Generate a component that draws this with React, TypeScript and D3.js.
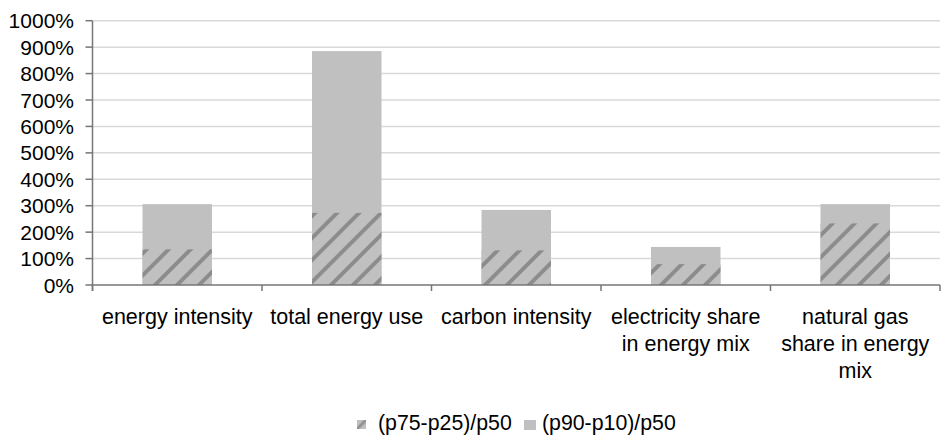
import React from "react";
import * as d3 from "d3";

const categories = [
  ["energy intensity"],
  ["total energy use"],
  ["carbon intensity"],
  ["electricity share", "in energy mix"],
  ["natural gas", "share in energy", "mix"],
];
const seriesNames = ["(p75-p25)/p50", "(p90-p10)/p50"];
const iqrValues = [135, 273, 131, 79, 233];
const p90p10Values = [306, 885, 284, 144, 306];
const yTicks = [0, 100, 200, 300, 400, 500, 600, 700, 800, 900, 1000];

const W = 946;
const H = 443;
const FONT = "Arial, 'Liberation Sans', sans-serif";

export default function App() {
  const left = 92.5;
  const right = 940;
  const top = 20.7;
  const bottom = 285;
  const x = d3
    .scaleBand<number>()
    .domain(categories.map((_, i) => i))
    .range([left, right])
    .paddingInner(0)
    .paddingOuter(0);
  const y = d3.scaleLinear().domain([0, 1000]).range([bottom, top]);
  const bw = x.bandwidth() * 0.41;
  const axisColor = "#767676";

  return (
    <svg
      width={W}
      height={H}
      style={{ position: "absolute", left: 0, top: 0, background: "#fff" }}
      fontFamily={FONT}
    >
      <defs>
        <pattern id="hatch" patternUnits="userSpaceOnUse" width={22} height={22}>
          <rect width={22} height={22} fill="#c0c0c0" />
          <path
            d="M-2,24 L24,-2 M-7.5,7.5 L7.5,-7.5 M14.5,29.5 L29.5,14.5"
            stroke="#8c8c8c"
            strokeWidth={4}
          />
        </pattern>
        <linearGradient id="legendHatch" x1="0" y1="0" x2="1" y2="1">
          <stop offset="0" stopColor="#c0c0c0" />
          <stop offset="0.3" stopColor="#c0c0c0" />
          <stop offset="0.5" stopColor="#8a8a8a" />
          <stop offset="0.7" stopColor="#c0c0c0" />
          <stop offset="1" stopColor="#c0c0c0" />
        </linearGradient>
      </defs>

      {/* gridlines */}
      {yTicks.slice(1).map((t) => (
        <line
          key={"g" + t}
          x1={left}
          x2={right}
          y1={y(t)}
          y2={y(t)}
          stroke="#d9d9d9"
          strokeWidth={1.5}
        />
      ))}

      {/* bars */}
      {categories.map((_, i) => {
        const cx = (x(i) as number) + x.bandwidth() / 2;
        return (
          <g key={"b" + i}>
            <rect
              x={cx - bw / 2}
              y={y(p90p10Values[i])}
              width={bw}
              height={bottom - y(p90p10Values[i])}
              fill="#c0c0c0"
            />
            <rect
              x={cx - bw / 2}
              y={y(iqrValues[i])}
              width={bw}
              height={bottom - y(iqrValues[i])}
              fill="url(#hatch)"
            />
          </g>
        );
      })}

      {/* y axis */}
      <line x1={left} x2={left} y1={top} y2={bottom + 6} stroke={axisColor} strokeWidth={1.5} />
      {yTicks.map((t) => (
        <g key={"yt" + t}>
          <line x1={left - 7} x2={left} y1={y(t)} y2={y(t)} stroke={axisColor} strokeWidth={1.5} />
          <text x={74} y={y(t)} dy="0.36em" textAnchor="end" fontSize={21} fill="#000">
            {t + "%"}
          </text>
        </g>
      ))}

      {/* x axis */}
      <line x1={left} x2={right} y1={bottom} y2={bottom} stroke={axisColor} strokeWidth={1.5} />
      {categories.map((_, i) => (
        <line
          key={"xt" + i}
          x1={x(i) as number}
          x2={x(i) as number}
          y1={bottom}
          y2={bottom + 6}
          stroke={axisColor}
          strokeWidth={1.5}
        />
      ))}
      <line x1={right} x2={right} y1={bottom} y2={bottom + 6} stroke={axisColor} strokeWidth={1.5} />
      {categories.map((lines, i) => {
        const cx = (x(i) as number) + x.bandwidth() / 2;
        return (
          <text key={"xl" + i} textAnchor="middle" fontSize={21.5} fill="#000">
            {lines.map((ln, j) => (
              <tspan key={j} x={cx} y={323.5 + j * 27}>
                {ln}
              </tspan>
            ))}
          </text>
        );
      })}

      {/* legend */}
      <rect x={357} y={420} width={9} height={9} fill="url(#legendHatch)" />
      <text x={378} y={429.5} fontSize={21.3} fill="#000">
        {seriesNames[0]}
      </text>
      <rect x={524} y={420} width={12} height={10} fill="#c0c0c0" />
      <text x={542} y={429.5} fontSize={21.3} fill="#000">
        {seriesNames[1]}
      </text>
    </svg>
  );
}
